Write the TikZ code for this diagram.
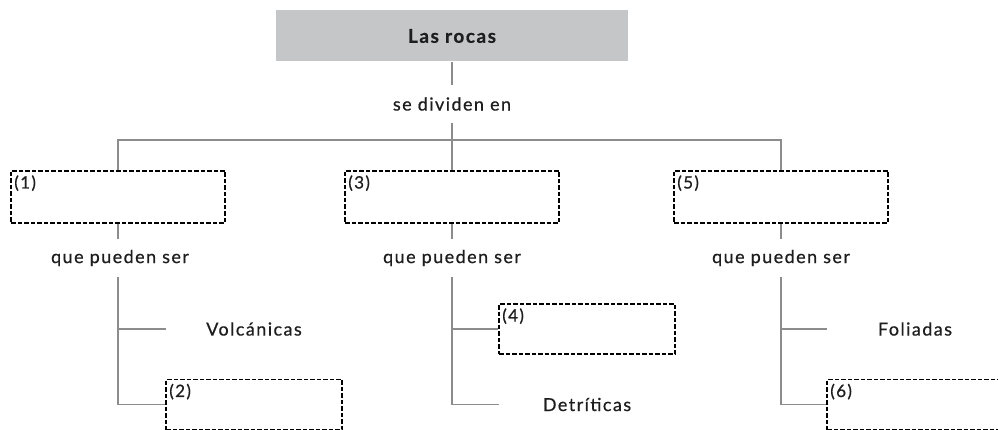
\documentclass[tikz,border=0pt]{standalone}
\usepackage{fontspec}
\setmainfont{Lato}[LetterSpace=8,FakeBold=0.6]
\definecolor{boxgray}{HTML}{C5C6C8}
\definecolor{linegray}{HTML}{8C8C8C}
\definecolor{txtgray}{HTML}{1E1E1E}

\begin{document}
\begin{tikzpicture}[x=1pt,y=-1pt,
    conn/.style={draw=linegray,line width=1.7pt},
    word/.style={text=txtgray,font=\fontsize{18}{21}\selectfont,inner sep=0pt,minimum height=37pt},
    gapbox/.style={draw=black,dash pattern=on 4.5pt off 2pt,line width=1.8pt,minimum width=#1,minimum height=52pt,inner sep=0pt},
    leaf/.style={text=txtgray,font=\fontsize{18}{21}\selectfont,minimum width=176pt,minimum height=50pt,inner sep=0pt},
    num/.style={anchor=north west,text=txtgray,font=\fontsize{17}{19}\selectfont,inner xsep=4pt,inner ysep=5pt}]
              \clip (0,0) rectangle (998,430);
              \node[fill=boxgray,minimum width=352pt,minimum height=51pt,text=txtgray,font=\fontsize{19}{22}\selectfont\bfseries](top)at(452,36){Las rocas};
              \node[word](div)at(452,104){se dividen en};
              \node[gapbox=214pt,label={[num]north west:(1)}](g1)at(118,197){};
              \node[gapbox=214pt,label={[num]north west:(3)}](g3)at(452,197){};
              \node[gapbox=214pt,label={[num]north west:(5)}](g5)at(781,197){};
              \node[word](q1)at(120,258){que pueden ser};
              \node[word](q3)at(452,258){que pueden ser};
              \node[word](q5)at(781,258){que pueden ser};
              \node[leaf](volc)at(254,329){Volcánicas};
              \node[gapbox=176pt,minimum height=50pt,label={[num]north west:(2)}](g2)at(254,404.5){};
              \node[gapbox=176pt,minimum height=50pt,label={[num]north west:(4)}](g4)at(587,329){};
              \node[leaf](detr)at(587,404.5){Detríticas};
              \node[leaf](foli)at(915,329){Foliadas};
              \node[gapbox=176pt,minimum height=50pt,label={[num]north west:(6)}](g6)at(915,404.5){};
              \coordinate (bus) at (452,140);
              \draw[conn](top)--(div);
              \draw[conn](div)--(g3);
              \draw[conn](g1.north)--(g1.north|-bus)--(g5.north|-bus)--(g5.north);
              \draw[conn](g1)--(g1|-q1.north);
              \draw[conn](g3)--(q3);
              \draw[conn](g5)--(q5);
              \draw[conn](g1|-q1.south)|-(g2.west);
              \draw[conn](g1|-volc.west)--(volc.west);
              \draw[conn](q3.south)|-(detr.west);
              \draw[conn](q3.south|-g4.west)--(g4.west);
              \draw[conn](q5.south)|-(g6.west);
              \draw[conn](q5.south|-foli.west)--(foli.west);
            \end{tikzpicture}
\end{document}
